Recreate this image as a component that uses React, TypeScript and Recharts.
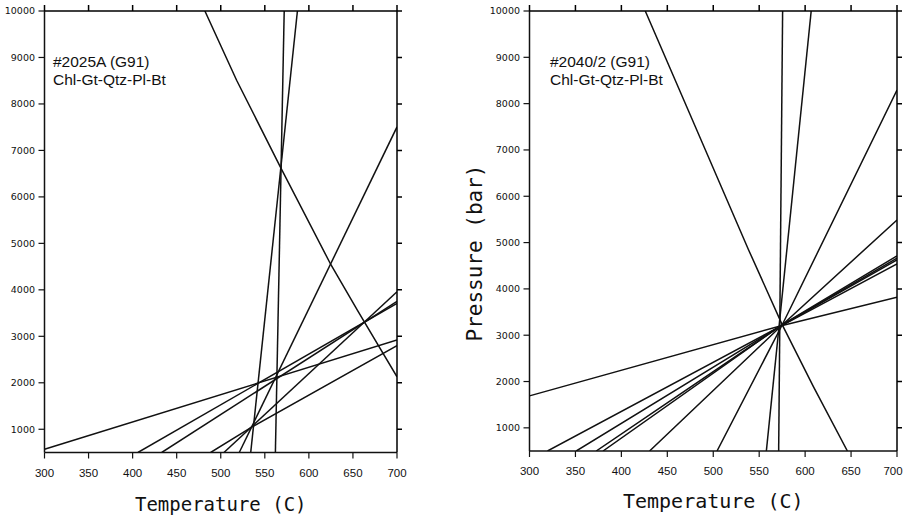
import React from 'react';
import { LineChart, Line, XAxis, YAxis } from 'recharts';

const tempTicks = [300, 350, 400, 450, 500, 550, 600, 650, 700];
const pressureTicks = [1000, 2000, 3000, 4000, 5000, 6000, 7000, 8000, 9000, 10000];

// reaction lines, [T (C), P (bar)]
const reactions2025A = [
  [[482, 10000], [518, 8510], [568, 6630], [625, 4540], [655, 3565], [700, 2130]],
  [[572, 10000], [562, 500]],
  [[587, 10000], [534, 500]],
  [[521, 500], [700, 7506]],
  [[300, 570], [700, 2920]],
  [[488.5, 500], [536.5, 1060], [700, 2800]],
  [[503.6, 500], [700, 3958]],
  [[406, 500], [700, 3710]],
  [[433, 500], [700, 3750]],
];

const reactions2040 = [
  [[426, 10000], [475, 7755], [538.5, 4841], [575, 3230], [609, 1890], [646, 500]],
  [[575.5, 10000], [571.2, 500]],
  [[606.6, 10000], [557.8, 500]],
  [[300, 1690], [573, 3200], [700, 3820]],
  [[319.6, 500], [573, 3190], [700, 4539]],
  [[350.9, 500], [573, 3195], [700, 4625]],
  [[372.6, 500], [573, 3195], [700, 4662]],
  [[380, 500], [573, 3200], [700, 4712]],
  [[430.7, 500], [575, 3220], [700, 5489]],
  [[504.1, 500], [575, 3220], [700, 8295]],
];

const toPoints = (pairs: number[][]) => pairs.map(([t, p]) => ({ t, p }));

const ink = '#111';
const titleFont = 'DejaVu Sans Mono, monospace';
const T_DOMAIN = [300, 700];
const P_DOMAIN = [500, 10000];

// bottom tick labels, the last one pulled in a little so it stays on the page
const TempTick = (props: any) => {
  const { x, y, payload, pullLast } = props;
  const dx = pullLast && payload.value === 700 ? -4 : 0;
  return (
    <text
      x={x + dx}
      y={y}
      dy={8.5}
      textAnchor="middle"
      fill={ink}
      fontSize={11.5}
      fontFamily="Liberation Sans, Arial, sans-serif"
    >
      {payload.value}
    </text>
  );
};

type Box = { x0: number; x1: number; y0: number; y1: number };

// top and right edges of the plot frame with outward ticks, built as one path
function framePath({ x0, x1, y0, y1 }: Box) {
  const sx = (t: number) => x0 + ((t - T_DOMAIN[0]) / (T_DOMAIN[1] - T_DOMAIN[0])) * (x1 - x0);
  const sy = (p: number) => y1 - ((p - P_DOMAIN[0]) / (P_DOMAIN[1] - P_DOMAIN[0])) * (y1 - y0);
  let d = `M${x0},${y0}L${x1},${y0}L${x1},${y1}`;
  tempTicks.forEach((t) => {
    d += `M${sx(t)},${y0}L${sx(t)},${y0 - 6}`;
  });
  pressureTicks.forEach((p) => {
    d += `M${x1},${sy(p)}L${x1 + 5},${sy(p)}`;
  });
  return d;
}

type PanelProps = {
  width: number;
  margin: { top: number; right: number; bottom: number; left: number };
  yWidth: number;
  xHeight: number;
  xTitleSize: number;
  xTitleOffset: number;
  reactions: number[][][];
  yTitle?: boolean;
};

function Panel({ width, margin, yWidth, xHeight, xTitleSize, xTitleOffset, reactions, yTitle }: PanelProps) {
  const axisLine = { stroke: ink, strokeWidth: 1.5 };
  const tickLine = { stroke: ink, strokeWidth: 1.2 };
  return (
    <LineChart width={width} height={522} margin={margin}>
      <XAxis
        dataKey="t"
        type="number"
        domain={T_DOMAIN}
        ticks={tempTicks}
        interval={0}
        allowDataOverflow
        height={xHeight}
        tickSize={6}
        tickMargin={9.5}
        axisLine={axisLine}
        tickLine={tickLine}
        tick={<TempTick pullLast={!!yTitle} />}
        label={{
          value: 'Temperature (C)',
          position: 'insideBottom',
          offset: xTitleOffset,
          style: { fill: ink, fontSize: xTitleSize, fontFamily: titleFont },
        }}
      />
      <YAxis
        type="number"
        domain={P_DOMAIN}
        ticks={pressureTicks}
        interval={0}
        allowDataOverflow
        width={yWidth}
        tickSize={6}
        tickMargin={3.5}
        axisLine={axisLine}
        tickLine={tickLine}
        tick={{ fill: ink, fontSize: 9.5, fontFamily: 'DejaVu Sans, sans-serif' }}
        label={
          yTitle
            ? {
                value: 'Pressure (bar)',
                angle: -90,
                position: 'center',
                dy: 22,
                style: { fill: ink, fontSize: 21, fontFamily: titleFont },
              }
            : undefined
        }
      />
      {reactions.map((r, i) => (
        <Line
          key={i}
          data={toPoints(r)}
          dataKey="p"
          type="linear"
          dot={false}
          activeDot={false}
          stroke={ink}
          strokeWidth={1.5}
          isAnimationActive={false}
        />
      ))}
    </LineChart>
  );
}

export default function App() {
  const note = { fontFamily: 'Liberation Sans, Arial, sans-serif', fontSize: 15.5, fill: ink };
  return (
    <div style={{ position: 'absolute', left: 0, top: 0, width: 905, height: 522, background: '#fff' }}>
      <div style={{ position: 'absolute', left: 0, top: 0 }}>
        <Panel
          width={420}
          margin={{ top: 11, right: 23, bottom: 3.5, left: 0 }}
          yWidth={44.5}
          xHeight={66}
          xTitleSize={19}
          xTitleOffset={7.5}
          reactions={reactions2025A}
        />
      </div>
      <div style={{ position: 'absolute', left: 420, top: 0 }}>
        <Panel
          width={485}
          margin={{ top: 11, right: 8, bottom: 3.5, left: 0 }}
          yWidth={109.5}
          xHeight={67.5}
          xTitleSize={20}
          xTitleOffset={10.5}
          reactions={reactions2040}
          yTitle
        />
      </div>
      <svg
        width={905}
        height={522}
        viewBox="0 0 905 522"
        style={{ position: 'absolute', left: 0, top: 0, pointerEvents: 'none', zIndex: 5 }}
      >
        <path d={framePath({ x0: 44.5, x1: 397, y0: 11, y1: 452.5 })} stroke="#000" strokeWidth={1.5} fill="none" />
        <path d={framePath({ x0: 529.5, x1: 897, y0: 11, y1: 451 })} stroke="#000" strokeWidth={1.5} fill="none" />
        <text x={53} y={67} {...note}>#2025A (G91)</text>
        <text x={53} y={85} {...note}>Chl-Gt-Qtz-Pl-Bt</text>
        <text x={550} y={67} {...note}>#2040/2 (G91)</text>
        <text x={550} y={85} {...note}>Chl-Gt-Qtz-Pl-Bt</text>
      </svg>
    </div>
  );
}
